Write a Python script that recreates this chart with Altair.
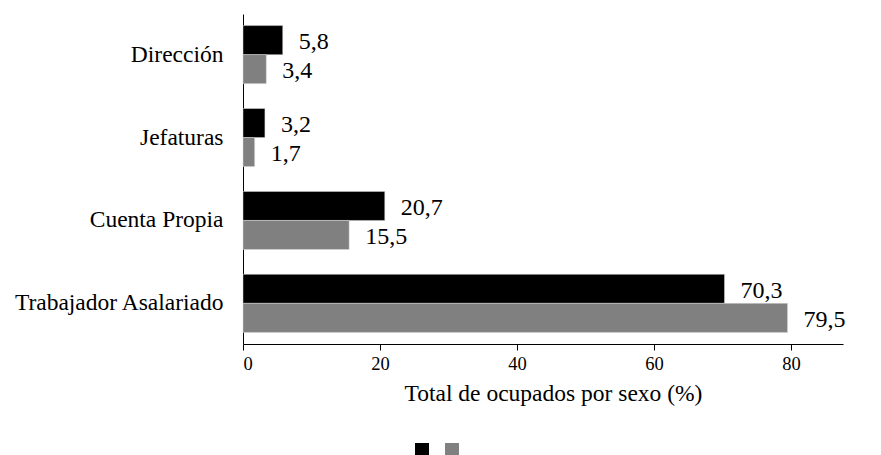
import altair as alt
import pandas as pd

categorias = ["Dirección", "Jefaturas", "Cuenta Propia", "Trabajador Asalariado"]
hombres = [5.8, 3.2, 20.7, 70.3]
mujeres = [3.4, 1.7, 15.5, 79.5]
series = ["Hombres", "Mujeres"]
colores = ["#000000", "#808080"]
ticks = [0, 20, 40, 60, 80]

rows = []
for c, h, m in zip(categorias, hombres, mujeres):
    rows.append({"cat": c, "sexo": series[0], "val": h, "lab": f"{h:.1f}".replace(".", ",")})
    rows.append({"cat": c, "sexo": series[1], "val": m, "lab": f"{m:.1f}".replace(".", ",")})
df = pd.DataFrame(rows)

FONT = "Liberation Serif"

y = alt.Y("cat:N", sort=categorias, title=None,
          scale=alt.Scale(paddingInner=0.3, paddingOuter=0.14),
          axis=alt.Axis(ticks=False, labelFontSize=23.5, labelFont=FONT, labelColor="black",
                        labelPadding=20, domainColor="black", labelLimit=400))
x = alt.X("val:Q", title="Total de ocupados por sexo (%)",
          scale=alt.Scale(domain=[0, 87.6], nice=False, zero=True),
          axis=alt.Axis(values=ticks, grid=False, labelFontSize=18.5, labelFont=FONT,
                        labelColor="black", titleFontSize=23.5, titleFont=FONT,
                        titleFontWeight="normal", titleColor="black", titlePadding=9,
                        titleX=310, titleAlign="center",
                        tickColor="black", domainColor="black", tickSize=6, labelPadding=4))
yoff = alt.YOffset("sexo:N", sort=series, scale=alt.Scale(paddingInner=0, paddingOuter=0))

bars = alt.Chart(df).mark_bar(stroke="#d9d9d9", strokeWidth=0.5).encode(
    y=y, x=x, yOffset=yoff,
    color=alt.Color("sexo:N", sort=series,
                    scale=alt.Scale(domain=series, range=colores),
                    legend=alt.Legend(orient="none", legendX=172, legendY=429,
                                      direction="horizontal", title=None,
                                      symbolType="square", symbolSize=196,
                                      symbolStrokeWidth=0, labelExpr="''",
                                      labelOffset=0, columnPadding=16,
                                      labelFontSize=1, padding=0)),
)
text = alt.Chart(df).mark_text(align="left", baseline="middle", dx=16, dy=2,
                               fontSize=24, font=FONT, color="black").encode(
    y=y, x=x, yOffset=yoff, text="lab:N")

chart = (bars + text).properties(
    width=600, height=330,
    autosize=alt.AutoSizeParams(type="none"),
    padding={"left": 235, "top": 6, "right": 30, "bottom": 120},
).configure(font=FONT).configure_view(strokeWidth=0, stroke=None).configure_axisX(labelFontSize=18.5)

chart.save("out.html", embed_options={"renderer": "svg", "actions": False})
